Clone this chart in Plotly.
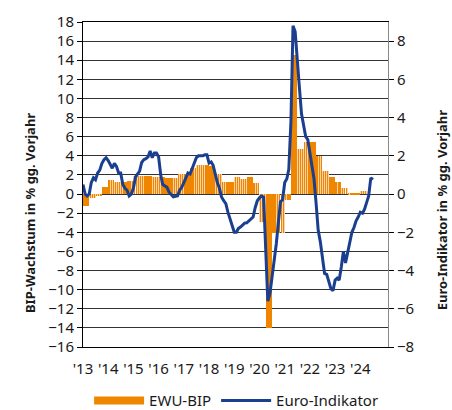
import numpy as np
import pandas as pd
import plotly.graph_objects as go

# Euro-Indikator, % gg. Vorjahr, monthly values starting January 2013
indikator = [
    0.5, 0.0, -0.1, 0.0, 0.6, 0.85, 0.75, 1.1, 1.25, 1.6, 1.8, 1.9,
    1.75, 1.5, 1.35, 1.6, 1.45, 1.1, 1.1, 0.5, 0.3, 0.2, -0.1, 0.0,
    0.3, 0.9, 1.05, 1.2, 1.65, 1.8, 1.85, 1.95, 2.25, 1.9, 2.15, 2.15,
    1.95, 1.0, 0.5, 0.4, 0.35, 0.1, 0.0, -0.15, -0.12, -0.1, 0.2, 0.35,
    0.6, 0.9, 1.1, 1.05, 1.3, 1.6, 1.9, 2.0, 2.0, 2.0, 2.05, 2.05,
    1.62, 1.68, 1.5, 1.0, 0.6, 0.3, -0.15, -0.35, -0.5, -0.95, -1.3, -1.6,
    -2.0, -2.0, -1.8, -1.73, -1.6, -1.52, -1.5, -1.4, -1.3, -1.2, -0.7, -0.35,
    -0.2, -0.1, -0.16, -3.0, -5.6, -5.2, -4.4, -3.6, -2.6, -1.5, -0.4, -0.3,
    0.6, 0.8, 1.3, 3.8, 8.8, 8.5, 6.9, 5.6, 4.2, 3.5, 3.0, 2.85,
    2.1, 1.3, 0.8, -0.5, -1.9, -2.5, -3.3, -4.15, -4.2, -4.6, -4.95, -5.06,
    -4.5, -4.4, -4.5, -3.8, -3.0, -3.6, -3.1, -2.5, -2.0, -1.75, -1.4, -1.2,
    -0.95, -1.0, -0.8, -0.45, -0.1, 0.85, 0.75,
]

# EWU-BIP, % gg. Vorjahr, quarterly values starting Q1 2013
bip = [
    -1.26, -0.45, -0.1, 0.77,
    1.46, 1.22, 1.25, 1.36,
    1.9, 1.9, 1.9, 1.8,
    1.8, 1.7, 1.65, 2.06,
    2.06, 2.69, 3.03, 3.03,
    2.95, 2.09, 1.29, 1.29,
    1.8, 1.53, 1.8, 1.15,
    -2.9, -14.0, -4.05, -4.05,
    -0.6, 14.6, 4.7, 5.4,
    5.4, 4.0, 2.44, 1.81,
    1.29, 0.59, 0.14, 0.14,
    0.3,
]

year_labels = ["'13", "'14", "'15", "'16", "'17", "'18",
               "'19", "'20", "'21", "'22", "'23", "'24"]

ORANGE = "#F08600"
ORANGE_LIGHT = "#FAD4A8"
BLUE = "#1B3F8F"
TEXT = "#1a1a1a"
FONT = "Noto Sans"

line_dates = pd.date_range("2013-01-01", periods=len(indikator), freq="MS")
bar_months = pd.date_range("2013-01-01", periods=3 * len(bip), freq="MS") + pd.Timedelta(days=15)
bar_values = np.repeat(bip, 3)
year_ticks = pd.date_range("2013-01-01", periods=len(year_labels), freq="YS")

DAY_MS = 86400000

fig = go.Figure()

# light orange body of each monthly GDP column
fig.add_trace(go.Bar(
    x=bar_months, y=bar_values, width=30.4 * DAY_MS,
    marker=dict(color=ORANGE_LIGHT, line=dict(width=0)),
    showlegend=False, hoverinfo="skip",
))
# darker orange stripe per month
fig.add_trace(go.Bar(
    x=bar_months, y=bar_values, width=7 * DAY_MS,
    marker=dict(color=ORANGE, line=dict(width=0)),
    name="EWU-BIP", legendgroup="bip", showlegend=False,
))
# legend swatch for the GDP series
fig.add_trace(go.Scatter(
    x=[None], y=[None], mode="lines", name="EWU-BIP", legendgroup="bip",
    line=dict(color=ORANGE, width=8),
))
fig.add_trace(go.Scatter(
    x=line_dates, y=indikator, mode="lines", name="Euro-Indikator",
    yaxis="y2", line=dict(color=BLUE, width=3),
))

fig.update_layout(
    width=452, height=410,
    margin=dict(l=83, r=64, t=22, b=63, autoexpand=False),
    paper_bgcolor="white", plot_bgcolor="white",
    barmode="overlay", bargap=0,
    font=dict(family=FONT, size=15, color=TEXT),
    xaxis=dict(
        type="date", range=["2013-01-01", "2025-02-05"],
        tickvals=year_ticks, ticktext=year_labels,
        showgrid=False, zeroline=False, ticks="",
        ticklabelstandoff=8,
        showline=True, linecolor="#000", linewidth=1, mirror=True,
        tickfont=dict(size=15, color=TEXT),
    ),
    yaxis=dict(
        range=[-16, 18], tick0=0, dtick=2,
        ticks="outside", ticklen=5, tickcolor="#000", tickwidth=1,
        showgrid=True, gridcolor="#333", gridwidth=1,
        zeroline=False,
        showline=True, linecolor="#000", linewidth=1,
        tickfont=dict(size=15, color=TEXT),
    ),
    yaxis2=dict(
        overlaying="y", side="right", range=[-8, 9],
        tickvals=list(range(-8, 9, 2)),
        ticks="outside", ticklen=5, tickcolor="#000", tickwidth=1,
        showgrid=False, zeroline=False,
        showline=True, linecolor="#888", linewidth=1,
        tickfont=dict(size=15, color=TEXT),
    ),
    legend=dict(
        orientation="h", x=0.02, xanchor="left", y=-0.165, yanchor="middle",
        font=dict(size=15, color=TEXT), itemwidth=50,
        bgcolor="rgba(0,0,0,0)", traceorder="normal",
    ),
    annotations=[
        dict(text="<b>BIP-Wachstum in % gg. Vorjahr</b>", textangle=-90,
             xref="paper", yref="paper", x=-0.174, y=0.412,
             xanchor="center", yanchor="middle", showarrow=False,
             font=dict(size=13, color=TEXT)),
        dict(text="<b>Euro-Indikator in % gg. Vorjahr</b>", textangle=-90,
             xref="paper", yref="paper", x=1.178, y=0.4215,
             xanchor="center", yanchor="middle", showarrow=False,
             font=dict(size=13, color=TEXT)),
    ],
)

fig.write_html("out.html")
